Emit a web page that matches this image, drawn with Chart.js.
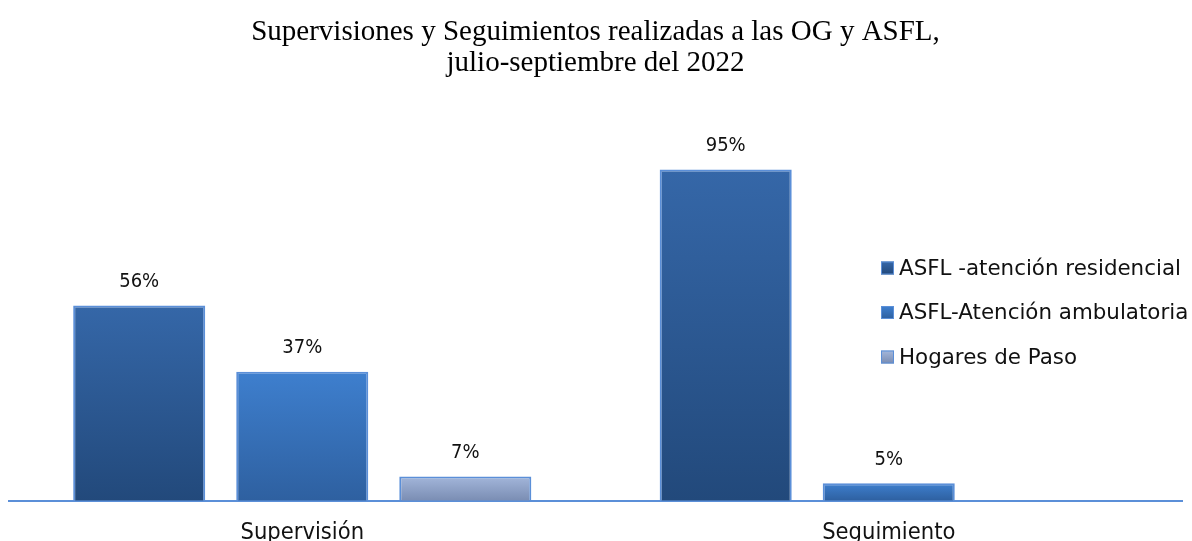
<!DOCTYPE html>
<html>
<head>
<meta charset="utf-8">
<script src="https://cdn.jsdelivr.net/npm/chart.js@4/dist/chart.umd.min.js"></script>
<style>
  html, body { margin: 0; padding: 0; background: #fff; }
  #wrap { width: 1192px; height: 541px; }
</style>
</head>
<body>
<div id="wrap"><canvas id="chart" width="1192" height="541"></canvas></div>
<script>
// ─── Data ──────────────────────────────────────────────────────────────────
const categories  = ["Supervisión", "Seguimiento"];
const seriesNames = ["ASFL -atención residencial", "ASFL-Atención ambulatoria", "Hogares de Paso"];
const residencial = [56, 95];
const ambulatoria = [37, 5];
const hogares     = [7, null];

const titleLines = ["Supervisiones y Seguimientos realizadas a las OG y ASFL,", "julio-septiembre del 2022"];

// gradient stops per series: [top, bottom]
const fills = [
  ["#3567a8", "#22497b"],
  ["#3e7fce", "#2e60a0"],
  ["#a3b6da", "#7a8db3"],
];
const edge = "#5b8fd8";
const narrowFont = "'Liberation Sans Narrow', 'DejaVu Sans Condensed', sans-serif";
const legendFont = "'DejaVu Sans', sans-serif";

// Vertical gradient from the top of each bar down to the baseline
function barFill(i) {
  return (ctx) => {
    const chart = ctx.chart;
    const y = chart.scales.y;
    if (!chart.chartArea || !y || ctx.raw == null) return fills[i][1];
    const top = y.getPixelForValue(ctx.raw);
    const base = y.getPixelForValue(0);
    const g = chart.ctx.createLinearGradient(0, top, 0, base);
    g.addColorStop(0, fills[i][0]);
    g.addColorStop(1, fills[i][1]);
    return g;
  };
}

// Percent labels above each bar
const valueLabels = {
  id: "valueLabels",
  afterDatasetsDraw(chart) {
    const c = chart.ctx;
    c.save();
    c.font = "20px " + narrowFont;
    c.fillStyle = "#111";
    c.textAlign = "center";
    c.textBaseline = "middle";
    chart.data.datasets.forEach((ds, di) => {
      chart.getDatasetMeta(di).data.forEach((bar, i) => {
        if (ds.data[i] == null) return;
        c.fillText(ds.data[i] + "%", bar.x, bar.y - 24);
      });
    });
    c.restore();
  },
};

// Legend on the right, overlapping the plot like the original
const sideLegend = {
  id: "sideLegend",
  afterDraw(chart) {
    const c = chart.ctx;
    const x0 = chart.chartArea.right - 301;
    const y0 = chart.chartArea.top + 116;
    c.save();
    c.font = "21.4px " + legendFont;
    c.textBaseline = "middle";
    seriesNames.forEach((name, i) => {
      const cy = y0 + i * 44.5;
      const g = c.createLinearGradient(0, cy - 6, 0, cy + 6);
      g.addColorStop(0, fills[i][0]);
      g.addColorStop(1, fills[i][1]);
      c.fillStyle = g;
      c.fillRect(x0, cy - 6.5, 13, 13);
      c.strokeStyle = edge;
      c.lineWidth = 1;
      c.strokeRect(x0 + 0.5, cy - 6, 12, 12);
      c.fillStyle = "#111";
      c.fillText(name, x0 + 18, cy + 1);
    });
    c.restore();
  },
};

const data = [residencial, ambulatoria, hogares];

new Chart(document.getElementById("chart"), {
  type: "bar",
  data: {
    labels: categories,
    datasets: data.map((vals, i) => ({
      label: seriesNames[i],
      data: vals,
      backgroundColor: barFill(i),
      borderColor: edge,
      borderWidth: 2,
      categoryPercentage: 0.834,
      barPercentage: 0.81,
    })),
  },
  options: {
    responsive: false,
    animation: false,
    layout: { padding: { left: 9, right: 10, top: 0, bottom: -24 } },
    plugins: {
      legend: { display: false },
      tooltip: { enabled: false },
      title: {
        display: true,
        text: titleLines,
        color: "#000",
        font: { family: "'Liberation Serif', 'Times New Roman', serif", size: 29, weight: "normal", lineHeight: 1.1 },
        padding: { top: 16, bottom: 72.2 },
      },
    },
    scales: {
      x: {
        grid: { display: false, drawTicks: false },
        border: { display: true, color: edge, width: 2 },
        ticks: { color: "#111", padding: 18, font: { family: narrowFont, size: 23.5, lineHeight: 1.2 } },
      },
      y: {
        display: false,
        min: 0,
        max: 100,
      },
    },
  },
  plugins: [valueLabels, sideLegend],
});
</script>
</body>
</html>
